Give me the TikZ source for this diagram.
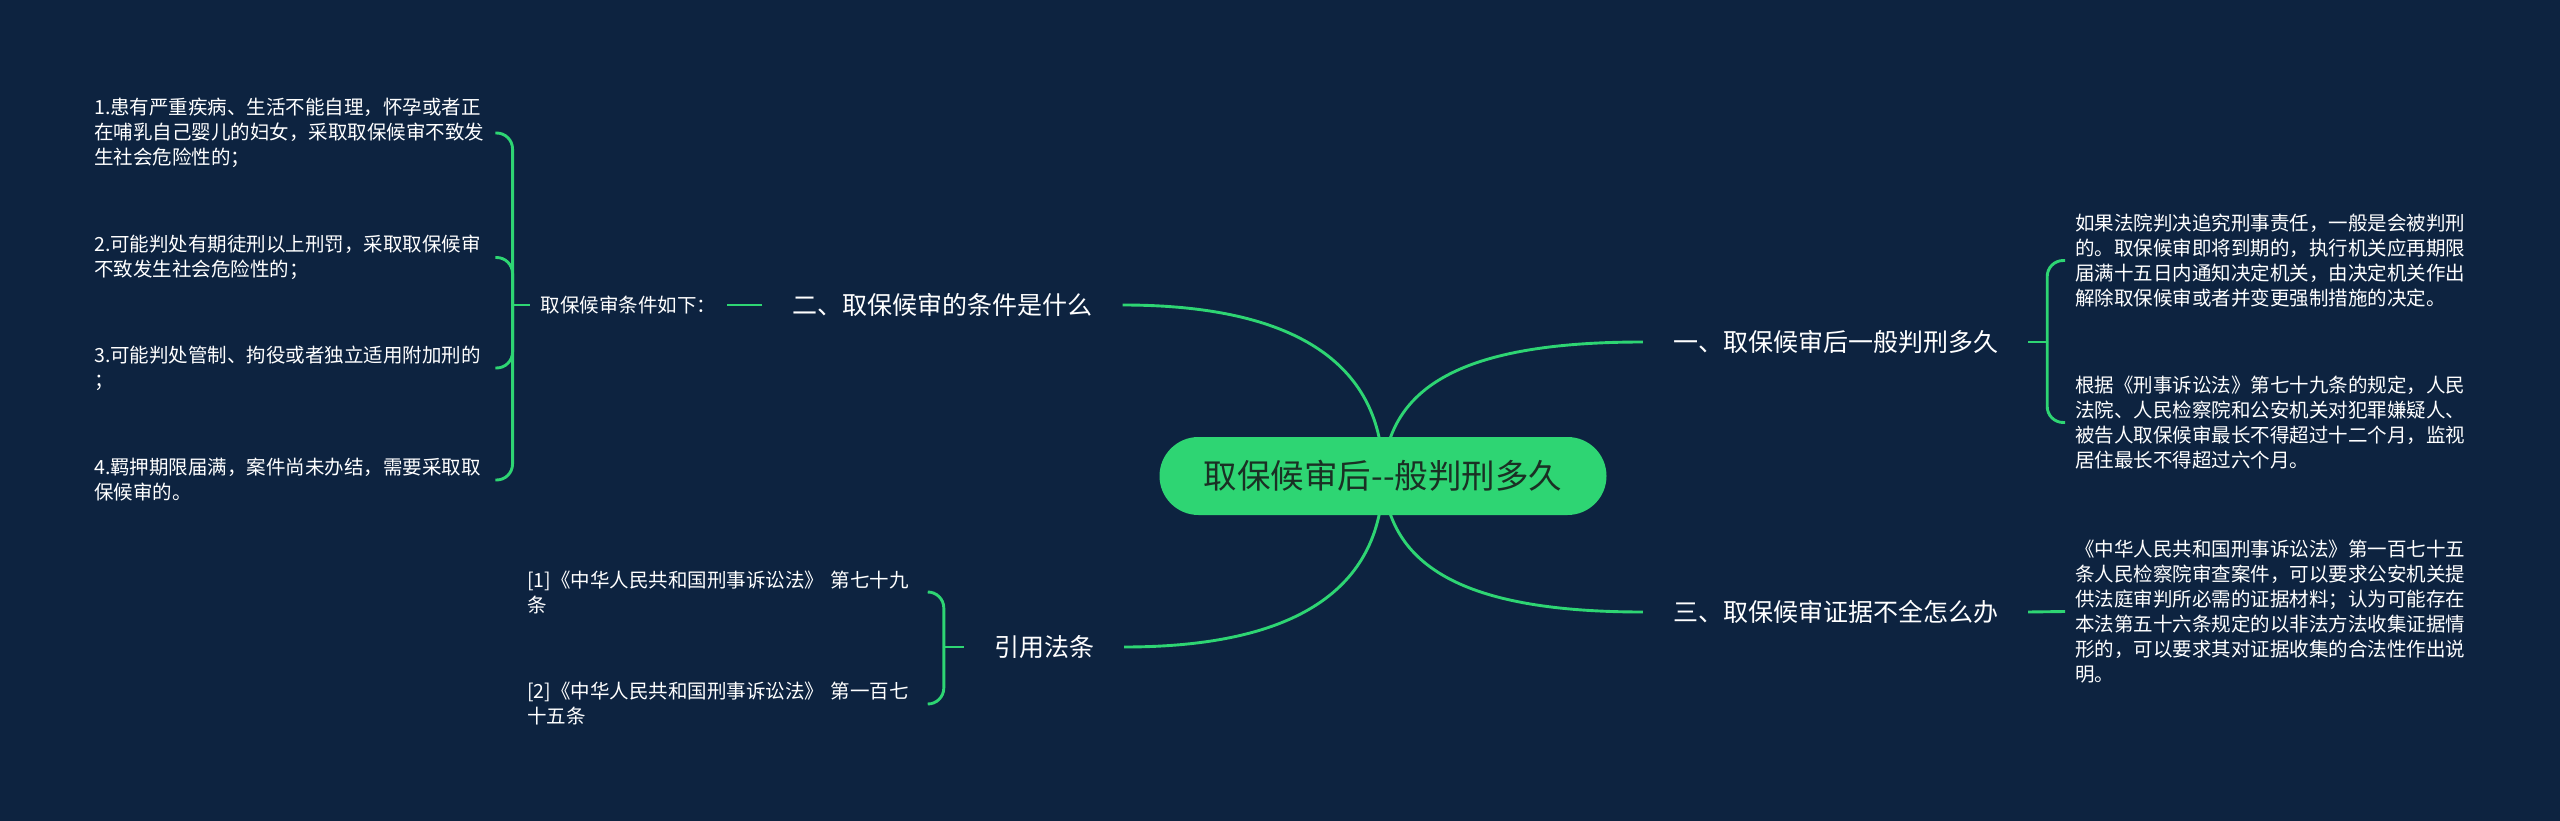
\documentclass[tikz,border=0pt]{standalone}
\usepackage{fontspec}
\setmainfont{Noto Sans CJK SC}
\definecolor{mmbg}{HTML}{0D2340}
\definecolor{mmgreen}{HTML}{2ED573}
\definecolor{rootink}{HTML}{1A3024}
\pgfdeclarelayer{bg}
\pgfdeclarelayer{links}
\pgfsetlayers{bg,links,main}

\begin{document}
\begin{tikzpicture}[x=1pt,y=-1pt,
  link/.style={draw=mmgreen,line width=2.9pt},
  bracket/.style={link,rounded corners=16pt},
  rootbox/.style={fill=mmgreen,rounded corners=39pt,minimum width=447pt,
    minimum height=78pt,inner sep=0pt,text=rootink,font=\fontsize{33.5}{38}\selectfont},
  branch/.style={text=white,inner xsep=30pt,font=\fontsize{25}{30}\selectfont},
  subbranch/.style={text=white,inner xsep=11pt,font=\fontsize{19.5}{25}\selectfont},
  leaf/.style={text=white,align=left,text width=400pt,inner ysep=0pt,
    font=\fontsize{19.5}{25}\selectfont}]
  \useasboundingbox (0,0) rectangle (2560,821);
  \begin{pgfonlayer}{bg}
    \fill[mmbg] (0,0) rectangle (2560,821);
  \end{pgfonlayer}

  % Centre topic.
  \node[rootbox] (root) at (1383,476) {取保候审后-{}-般判刑多久};

  % Main branches.
  \node[branch] (b1) at (1835.5,342) {一、取保候审后一般判刑多久};
  \node[branch] (b2) at (942.5,305) {二、取保候审的条件是什么};
  \node[branch] (b3) at (1835.5,612) {三、取保候审证据不全怎么办};
  \node[branch] (b4) at (1044,647) {引用法条};

  % Left: conditions.
  \node[subbranch] (cond) at (628.5,305) {取保候审条件如下：};
  \node[leaf,inner xsep=1pt,anchor=west] (it1) at (93,133)
    {1.患有严重疾病、生活不能自理，怀孕或者正\\在哺乳自己婴儿的妇女，采取取保候审不致发\\生社会危险性的；};
  \node[leaf,inner xsep=1pt,anchor=west] (it2) at (93,257.5)
    {2.可能判处有期徒刑以上刑罚，采取取保候审\\不致发生社会危险性的；};
  \node[leaf,inner xsep=1pt,anchor=west] (it3) at (93,368)
    {3.可能判处管制、拘役或者独立适用附加刑的\\；};
  \node[leaf,inner xsep=1pt,anchor=west] (it4) at (93,480)
    {4.羁押期限届满，案件尚未办结，需要采取取\\保候审的。};

  % Left: citations.
  \node[leaf,inner xsep=1pt,anchor=west] (ci1) at (526,592)
    {[1]《中华人民共和国刑事诉讼法》 第七十九\\条};
  \node[leaf,inner xsep=1pt,anchor=west] (ci2) at (526,704)
    {[2]《中华人民共和国刑事诉讼法》 第一百七\\十五条};

  % Right: paragraphs.
  \node[leaf,inner xsep=10pt,anchor=west] (p1) at (2065,260.5)
    {如果法院判决追究刑事责任，一般是会被判刑\\的。取保候审即将到期的，执行机关应再期限\\届满十五日内通知决定机关，由决定机关作出\\解除取保候审或者并变更强制措施的决定。};
  \node[leaf,inner xsep=10pt,anchor=west] (p2) at (2065,422.5)
    {根据《刑事诉讼法》第七十九条的规定，人民\\法院、人民检察院和公安机关对犯罪嫌疑人、\\被告人取保候审最长不得超过十二个月，监视\\居住最长不得超过六个月。};
  \node[leaf,inner xsep=10pt,anchor=west] (p3) at (2065,611.5)
    {《中华人民共和国刑事诉讼法》第一百七十五\\条人民检察院审查案件，可以要求公安机关提\\供法庭审判所必需的证据材料；认为可能存在\\本法第五十六条规定的以非法方法收集证据情\\形的，可以要求其对证据收集的合法性作出说\\明。};

  \begin{pgfonlayer}{links}
    % Curves out of the centre.
    \draw[link] (root.center) .. controls +(0,-100) and +(190,0) .. (b2.east);
    \draw[link] (root.center) .. controls +(0,100) and +(190,0) .. (b4.east);
    \draw[link] (root.center) .. controls +(5,-90) and +(-180,0) .. (b1.west);
    \draw[link] (root.center) .. controls +(5,90) and +(-180,0) .. (b3.west);

    % Brackets.
    \draw[link] (b2.west) -- (cond.east);
    \draw[link] (cond.west) -- ++(-17,0) coordinate (jc);
    \foreach \n in {it1,it2,it3,it4}
      \draw[bracket] (jc) |- (\n.east);
    \draw[link] (b4.west) -- ++(-20,0) coordinate (jr);
    \foreach \n in {ci1,ci2}
      \draw[bracket] (jr) |- (\n.east);
    \draw[link] (b1.east) -- ++(19,0) coordinate (jp);
    \foreach \n in {p1,p2}
      \draw[bracket] (jp) |- (\n.west);
    \draw[link] (b3.east) -- (p3.west);
  \end{pgfonlayer}
\end{tikzpicture}
\end{document}
